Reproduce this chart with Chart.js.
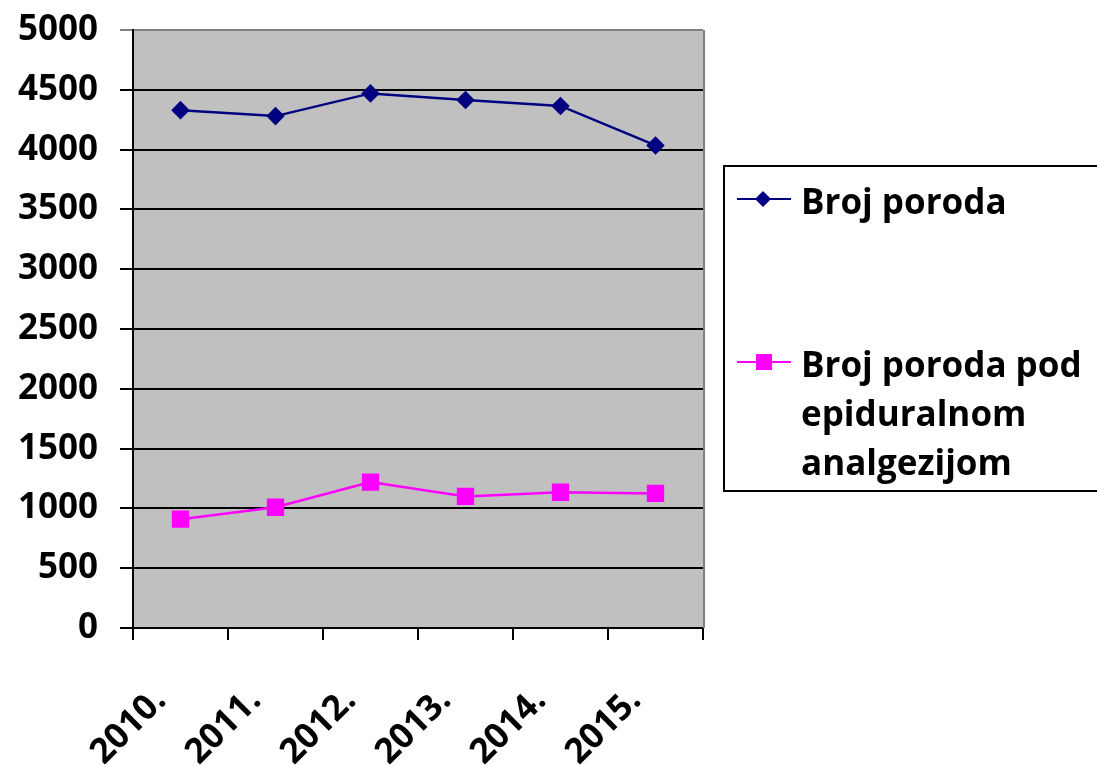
<!DOCTYPE html>
<html>
<head>
<meta charset="utf-8">
<script src="https://cdn.jsdelivr.net/npm/chart.js@4/dist/chart.umd.min.js"></script>
<style>
    body { margin: 0; background: #fff; }
    #wrap { width: 1097px; height: 766px; }
</style>
</head>
<body>
<div id="wrap"><canvas id="grafik" width="1097" height="766"></canvas></div>
<script>
/* podaci */
const godine = ["2010.", "2011.", "2012.", "2013.", "2014.", "2015."];
const brojPoroda = [4330, 4280, 4470, 4415, 4365, 4035];
const brojEpidural = [910, 1010, 1220, 1100, 1135, 1125];
const nazivi = ["Broj poroda", "Broj poroda pod epiduralnom analgezijom"];
const yTicks = [0, 500, 1000, 1500, 2000, 2500, 3000, 3500, 4000, 4500, 5000];

const FONT = "'Open Sans', Lato, sans-serif";

/* siva pozadina plota */
const pozadina = {
    id: "pozadina",
    beforeDraw(chart) {
        const a = chart.chartArea;
        const ctx = chart.ctx;
        ctx.save();
        ctx.fillStyle = "#c0c0c0";
        ctx.fillRect(a.left, a.top, a.right - a.left, a.bottom - a.top);
        ctx.restore();
    },
    beforeDatasetsDraw(chart) {
        const a = chart.chartArea;
        const ctx = chart.ctx;
        ctx.save();
        ctx.strokeStyle = "#808080";
        ctx.lineWidth = 2;
        ctx.beginPath();
        ctx.moveTo(a.right + 1, a.top);
        ctx.lineTo(a.right + 1, a.bottom);
        ctx.stroke();
        ctx.restore();
    }
};

/* legenda u okviru s desne strane */
const legenda = {
    id: "legenda",
    afterDraw(chart) {
        const ctx = chart.ctx;
        ctx.save();
        ctx.strokeStyle = "#000";
        ctx.lineWidth = 2;
        ctx.strokeRect(724, 166, 380, 325);

        ctx.font = "bold 35px " + FONT;
        ctx.textBaseline = "alphabetic";
        ctx.textAlign = "left";

        const redovi = [
            { y: 199, linije: ["Broj poroda"] },
            { y: 362, linije: ["Broj poroda pod", "epiduralnom", "analgezijom"] }
        ];
        chart.data.datasets.forEach((ds, i) => {
            const r = redovi[i];
            ctx.strokeStyle = ds.borderColor;
            ctx.lineWidth = 2;
            ctx.beginPath();
            ctx.moveTo(737, r.y);
            ctx.lineTo(791, r.y);
            ctx.stroke();
            ctx.fillStyle = ds.pointBackgroundColor;
            if (ds.pointStyle === "rectRot") {
                ctx.beginPath();
                ctx.moveTo(763 - 8, r.y);
                ctx.lineTo(763, r.y - 8);
                ctx.lineTo(763 + 8, r.y);
                ctx.lineTo(763, r.y + 8);
                ctx.closePath();
                ctx.fill();
            } else {
                ctx.fillRect(764 - 8, r.y - 8, 16, 16);
            }
            ctx.fillStyle = "#000";
            r.linije.forEach((t, j) => {
                ctx.fillText(t, 801, r.y + 15 + j * 49);
            });
        });
        ctx.restore();
    }
};

new Chart(document.getElementById("grafik"), {
    type: "line",
    data: {
        labels: godine,
        datasets: [
            {
                label: nazivi[0],
                data: brojPoroda,
                borderColor: "#000080",
                backgroundColor: "#000080",
                pointBackgroundColor: "#000080",
                pointBorderColor: "#000080",
                pointStyle: "rectRot",
                pointRadius: 7.5,
                borderWidth: 2.5,
                tension: 0
            },
            {
                label: nazivi[1],
                data: brojEpidural,
                borderColor: "#ff00ff",
                backgroundColor: "#ff00ff",
                pointBackgroundColor: "#ff00ff",
                pointBorderColor: "#ff00ff",
                pointStyle: "rect",
                pointRadius: 10.5,
                borderWidth: 2.5,
                tension: 0
            }
        ]
    },
    options: {
        responsive: false,
        animation: false,
        layout: { padding: { top: 30, right: 394, left: 0, bottom: 0 } },
        plugins: {
            legend: { display: false },
            tooltip: { enabled: false }
        },
        scales: {
            x: {
                offset: true,
                grid: {
                    offset: true,
                    drawOnChartArea: false,
                    drawTicks: true,
                    tickLength: 12,
                    color: "#000",
                    lineWidth: 2
                },
                border: { display: true, color: "#000", width: 2 },
                ticks: {
                    minRotation: 45,
                    maxRotation: 45,
                    padding: 40,
                    labelOffset: -20,
                    color: "#000",
                    font: { family: FONT, size: 35, weight: "bold" }
                },
                afterFit(scale) {
                    scale.height = 138;
                    scale.paddingLeft = 0;
                    scale.paddingRight = 0;
                }
            },
            y: {
                min: 0,
                max: 5000,
                afterBuildTicks(scale) {
                    scale.ticks = yTicks.map(v => ({ value: v }));
                },
                grid: {
                    color: ctx => ctx.tick && ctx.tick.value === 5000 ? "#808080" : "#000",
                    lineWidth: 2,
                    tickLength: 13
                },
                border: { display: true, color: "#000", width: 2 },
                ticks: {
                    padding: 22,
                    color: "#000",
                    font: { family: FONT, size: 35, weight: "bold" },
                    callback: v => String(v)
                },
                afterFit(scale) {
                    scale.width = 133;
                    scale.paddingTop = 0;
                    scale.paddingBottom = 0;
                }
            }
        }
    },
    plugins: [pozadina, legenda]
});
</script>
</body>
</html>
